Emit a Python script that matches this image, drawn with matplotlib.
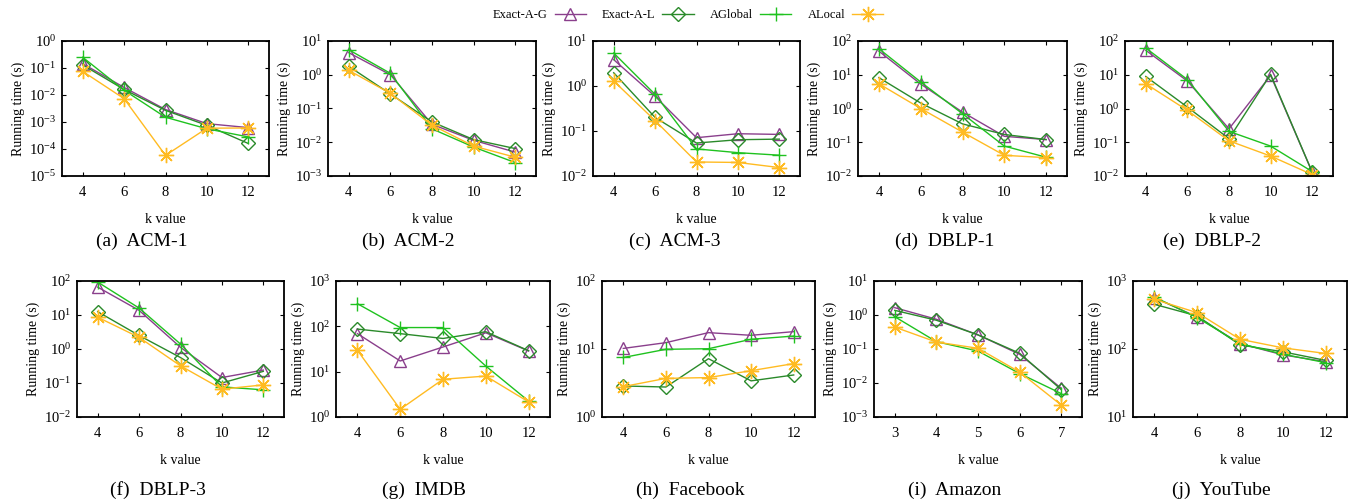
import matplotlib
matplotlib.use("Agg")
import matplotlib.pyplot as plt
from matplotlib.lines import Line2D
from matplotlib.ticker import LogLocator, NullLocator

plt.rcParams['font.family'] = ['Liberation Serif', 'DejaVu Serif']
plt.rcParams['mathtext.fontset'] = 'custom'
plt.rcParams['mathtext.rm'] = 'Liberation Serif'
plt.rcParams['mathtext.it'] = 'Liberation Serif:italic'

series_names = ["Exact-A-G", "Exact-A-L", "AGlobal", "ALocal"]

k_even = [4, 6, 8, 10, 12]
k_amazon = [3, 4, 5, 6, 7]

captions = ["(a)  ACM-1", "(b)  ACM-2", "(c)  ACM-3", "(d)  DBLP-1", "(e)  DBLP-2",
            "(f)  DBLP-3", "(g)  IMDB", "(h)  Facebook", "(i)  Amazon", "(j)  YouTube"]

acm1_exact_g = [0.145, 0.019, 0.0029, 8.7e-4, 6.2e-4]
acm1_exact_l = [0.13, 0.016, 0.0027, 7.5e-4, 1.6e-4]
acm1_aglobal = [0.25, 0.015, 1.5e-3, 5.6e-4, 2.8e-4]
acm1_alocal = [0.075, 0.0073, 5.8e-5, 5.9e-4, 6.0e-4]

acm2_exact_g = [4.5, 1.0, 0.034, 0.0114, 0.0051]
acm2_exact_l = [1.77, 0.27, 0.04, 0.012, 0.0065]
acm2_aglobal = [5.5, 1.1, 0.025, 0.0072, 0.0025]
acm2_alocal = [1.35, 0.28, 0.032, 0.0077, 0.0036]

acm3_exact_g = [3.85, 0.59, 0.071, 0.087, 0.084]
acm3_exact_l = [1.97, 0.2, 0.054, 0.064, 0.066]
acm3_aglobal = [5.4, 0.65, 0.04, 0.033, 0.029]
acm3_alocal = [1.29, 0.17, 0.0205, 0.02, 0.0154]

dblp1_exact_g = [50, 5.3, 0.78, 0.15, 0.12]
dblp1_exact_l = [8.2, 1.45, 0.35, 0.17, 0.12]
dblp1_aglobal = [59, 6.1, 0.7, 0.077, 0.036]
dblp1_alocal = [5.4, 1.0, 0.2, 0.041, 0.035]

dblp2_exact_g = [53, 6.5, 0.25, 9.6, 0.013]
dblp2_exact_l = [8.9, 1.1, 0.128, 10.3, 0.013]
dblp2_aglobal = [62, 7.2, 0.21, 0.077, 0.0135]
dblp2_alocal = [5.4, 0.88, 0.11, 0.039, 0.011]

dblp3_exact_g = [66, 13.7, 1.12, 0.145, 0.24]
dblp3_exact_l = [12.5, 2.5, 0.56, 0.1, 0.22]
dblp3_aglobal = [93, 16, 1.4, 0.077, 0.063]
dblp3_alocal = [8.6, 2.2, 0.32, 0.066, 0.088]

imdb_exact_g = [69, 17.2, 35, 72, 28.6]
imdb_exact_l = [87, 69, 54, 76, 29]
imdb_aglobal = [316, 94, 94, 13.3, 2.25]
imdb_alocal = [29.6, 1.48, 6.8, 8.0, 2.15]

facebook_exact_g = [10.2, 12.4, 17.4, 15.9, 18]
facebook_exact_l = [2.86, 2.76, 7.2, 3.4, 4.15]
facebook_aglobal = [7.5, 9.9, 10.1, 13.9, 15.5]
facebook_alocal = [2.8, 3.7, 3.8, 4.8, 6.1]

amazon_exact_g = [1.64, 0.75, 0.26, 0.07, 0.007]
amazon_exact_l = [1.37, 0.7, 0.26, 0.075, 0.0064]
amazon_aglobal = [0.89, 0.164, 0.087, 0.019, 0.0049]
amazon_alocal = [0.44, 0.16, 0.105, 0.021, 0.00225]

youtube_exact_g = [569, 296, 120, 82, 65]
youtube_exact_l = [454, 306, 115, 91, 68]
youtube_aglobal = [580, 290, 120, 84, 63]
youtube_alocal = [537, 342, 139, 104, 86]

panels = [
    (k_even, [acm1_exact_g, acm1_exact_l, acm1_aglobal, acm1_alocal], (1e-5, 1e0)),
    (k_even, [acm2_exact_g, acm2_exact_l, acm2_aglobal, acm2_alocal], (1e-3, 1e1)),
    (k_even, [acm3_exact_g, acm3_exact_l, acm3_aglobal, acm3_alocal], (1e-2, 1e1)),
    (k_even, [dblp1_exact_g, dblp1_exact_l, dblp1_aglobal, dblp1_alocal], (1e-2, 1e2)),
    (k_even, [dblp2_exact_g, dblp2_exact_l, dblp2_aglobal, dblp2_alocal], (1e-2, 1e2)),
    (k_even, [dblp3_exact_g, dblp3_exact_l, dblp3_aglobal, dblp3_alocal], (1e-2, 1e2)),
    (k_even, [imdb_exact_g, imdb_exact_l, imdb_aglobal, imdb_alocal], (1e0, 1e3)),
    (k_even, [facebook_exact_g, facebook_exact_l, facebook_aglobal, facebook_alocal], (1e0, 1e2)),
    (k_amazon, [amazon_exact_g, amazon_exact_l, amazon_aglobal, amazon_alocal], (1e-3, 1e1)),
    (k_even, [youtube_exact_g, youtube_exact_l, youtube_aglobal, youtube_alocal], (1e1, 1e3)),
]

colors = ['#8a3f8c', '#2a8a2a', '#1fc21f', '#ffbb22']
markers = ['^', 'D', '+', (8, 2, 0)]
msizes = [9, 7.5, 10, 11]

W, H = 1348, 504
fig = plt.figure(figsize=(W / 100, H / 100), dpi=100)

# axes boxes in pixels: left, right, top, bottom
boxes = [
    (62, 269, 41, 176), (328, 536, 41, 176), (593, 800, 41, 176), (858, 1067, 41, 176), (1125, 1333, 41, 176),
    (77, 284, 281, 417), (336, 550, 281, 417), (602, 815, 281, 417), (874, 1082, 281, 417), (1133, 1347, 281, 417),
]
cap_x = [142, 408, 675, 945, 1212, 158, 424, 690, 955, 1221]
cap_y = [241, 241, 241, 241, 241, 490, 490, 490, 490, 490]

for i, ((kx, ys, ylim), (l, r, t, b)) in enumerate(zip(panels, boxes)):
    ax = fig.add_axes([l / W, 1 - b / H, (r - l) / W, (b - t) / H])
    for j in range(4):
        ax.plot(kx, ys[j], color=colors[j], marker=markers[j], markersize=msizes[j],
                markerfacecolor='none', markeredgecolor=colors[j], markeredgewidth=1.0,
                linewidth=1.0, label=series_names[j])
    ax.set_yscale('log')
    ax.set_ylim(*ylim)
    ax.yaxis.set_major_locator(LogLocator(base=10, numticks=20))
    ax.yaxis.set_minor_locator(NullLocator())
    if kx is k_amazon:
        ax.set_xlim(2.5, 7.5)
    else:
        ax.set_xlim(3, 13)
    ax.set_xticks(kx)
    ax.tick_params(direction='in', top=True, right=True, labelsize=10.5, length=3, width=0.8)
    ax.tick_params(axis='y', pad=4)
    ax.tick_params(axis='x', pad=7)
    for s in ax.spines.values():
        s.set_linewidth(1.3)
    ax.set_xlabel('k value', fontsize=10, labelpad=10)
    ax.set_ylabel('Running time (s)', fontsize=10, labelpad=3)
    fig.text(cap_x[i] / W, 1 - cap_y[i] / H, captions[i], fontsize=14, ha='center', va='center')

handles = [Line2D([], [], color=colors[j], marker=markers[j], markersize=msizes[j],
                  markerfacecolor='none', markeredgewidth=1.0, linewidth=1.0) for j in range(4)]
fig.legend(handles, series_names, loc='center', bbox_to_anchor=(688 / W, 1 - 15 / H), ncol=4,
           frameon=False, fontsize=9, markerfirst=False, handlelength=2.5, columnspacing=1.3,
           handletextpad=0.55, borderpad=0)

fig.savefig('out.png', dpi=100)
